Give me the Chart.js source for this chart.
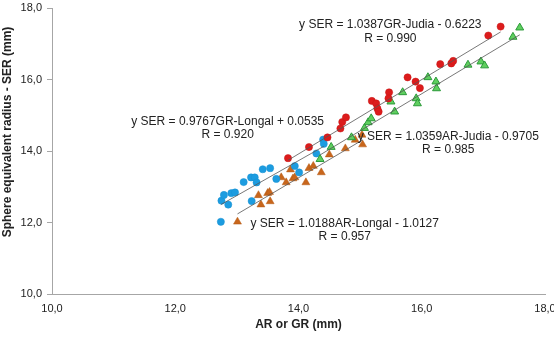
<!DOCTYPE html>
<html>
<head>
<meta charset="utf-8">
<script src="https://cdn.jsdelivr.net/npm/chart.js@4.4.1/dist/chart.umd.min.js"></script>
<style>
html, body { margin: 0; padding: 0; background: #fff; }
</style>
</head>
<body>
<canvas id="scatter-chart" width="554" height="340"></canvas>
<script>
// GR-Longal (blue circles)
const longalGRx = [12.74, 12.75, 12.79, 12.86, 12.91, 12.97, 13.11, 13.23, 13.29, 13.32, 13.42, 13.54, 13.64, 13.24, 13.94, 14.01, 14.29, 14.40, 14.41];
const longalGRy = [12.02, 12.61, 12.77, 12.50, 12.82, 12.84, 13.13, 13.26, 13.26, 13.12, 13.49, 13.52, 13.22, 12.60, 13.58, 13.40, 13.93, 14.32, 14.20];
// GR-Judia (red circles)
const judiaGRx = [13.83, 14.17, 14.47, 14.68, 14.71, 14.77, 15.19, 15.26, 15.28, 15.30, 15.47, 15.46, 15.77, 15.90, 15.97, 16.30, 16.48, 16.51, 17.08, 17.28];
const judiaGRy = [13.80, 14.11, 14.38, 14.63, 14.81, 14.94, 15.40, 15.33, 15.19, 15.10, 15.64, 15.47, 16.06, 15.94, 15.76, 16.43, 16.45, 16.52, 17.23, 17.48];
// AR-Judia (green triangles)
const judiaARx = [14.35, 14.53, 14.86, 15.07, 15.13, 15.18, 15.50, 15.56, 15.69, 15.91, 15.93, 16.10, 16.23, 16.24, 16.75, 16.96, 17.02, 17.48, 17.59];
const judiaARy = [13.77, 14.11, 14.38, 14.64, 14.80, 14.91, 15.38, 15.10, 15.64, 15.47, 15.33, 16.06, 15.94, 15.75, 16.41, 16.50, 16.39, 17.19, 17.45];
// AR-Longal (orange triangles)
const longalARx = [13.01, 13.35, 13.39, 13.50, 13.53, 13.54, 13.72, 13.80, 13.87, 13.91, 13.94, 14.12, 14.17, 14.24, 14.37, 14.50, 14.76, 14.92, 15.04, 15.03];
const longalARy = [12.02, 12.76, 12.50, 12.82, 12.85, 12.59, 13.26, 13.12, 13.48, 13.23, 13.26, 13.12, 13.52, 13.58, 13.40, 13.90, 14.07, 14.31, 14.18, 14.45];

// trendline end points (x range of each series)
const trendLongalGR = [[12.74, 12.50], [14.41, 14.13]];
const trendJudiaGR = [[13.83, 13.74], [17.28, 17.33]];
const trendJudiaAR = [[14.35, 13.89], [17.59, 17.25]];
const trendLongalAR = [[13.01, 12.24], [15.04, 14.31]];

const tickValues = [10, 12, 14, 16, 18];

// equation labels: [text, x, y]
const labels = [
  ["y SER = 1.0387GR-Judia - 0.6223", 15.49, 17.52],
  ["R = 0.990", 15.49, 17.15],
  ["y SER = 0.9767GR-Longal + 0.0535", 12.85, 14.82],
  ["R = 0.920", 12.85, 14.45],
  ["y SER = 1.0359AR-Judia - 0.9705", 16.43, 14.39],
  ["R = 0.985", 16.43, 14.03],
  ["y SER = 1.0188AR-Longal - 1.0127", 14.75, 11.98],
  ["R = 0.957", 14.75, 11.60]
];

function pts(xs, ys) {
  return xs.map((x, i) => ({ x: x, y: ys[i] }));
}
function line(ends) {
  return {
    type: 'line',
    data: ends.map(p => ({ x: p[0], y: p[1] })),
    borderColor: '#555',
    borderWidth: 0.8,
    pointRadius: 0,
    fill: false
  };
}
function fmt(v) {
  return Number(v).toFixed(1).replace('.', ',');
}

const textPlugin = {
  id: 'texts',
  afterDraw(chart) {
    const ctx = chart.ctx;
    const xs = chart.scales.x, ys = chart.scales.y;
    ctx.save();
    ctx.fillStyle = '#222';
    ctx.textAlign = 'center';
    ctx.textBaseline = 'middle';
    ctx.font = '12px "Liberation Sans", Arial, sans-serif';
    labels.forEach(l => {
      ctx.fillText(l[0], xs.getPixelForValue(l[1]), ys.getPixelForValue(l[2]));
    });
    ctx.font = 'bold 12px "Liberation Sans", Arial, sans-serif';
    ctx.fillText('AR or GR (mm)', (chart.chartArea.left + chart.chartArea.right) / 2, 325);
    ctx.translate(8, 132);
    ctx.rotate(-Math.PI / 2);
    ctx.fillText('Sphere equivalent radius - SER (mm)', 0, 0);
    ctx.restore();
  }
};

new Chart(document.getElementById("scatter-chart"), {
  type: 'scatter',
  data: {
    datasets: [
      line(trendLongalGR),
      line(trendJudiaGR),
      line(trendJudiaAR),
      line(trendLongalAR),
      {
        label: "GR-Judia",
        data: pts(judiaGRx, judiaGRy),
        pointStyle: 'circle',
        pointRadius: 3.6,
        backgroundColor: '#dc1c1c',
        borderColor: '#c81414',
        borderWidth: 0.5
      },
      {
        label: "AR-Judia",
        data: pts(judiaARx, judiaARy),
        pointStyle: 'triangle',
        pointRadius: 4.6,
        backgroundColor: '#5fcf5f',
        borderColor: '#2c9a3a',
        borderWidth: 1
      },
      {
        label: "GR-Longal",
        data: pts(longalGRx, longalGRy),
        pointStyle: 'circle',
        pointRadius: 3.6,
        backgroundColor: '#1c9ce0',
        borderColor: '#1890d0',
        borderWidth: 0.5
      },
      {
        label: "AR-Longal",
        data: pts(longalARx, longalARy),
        pointStyle: 'triangle',
        pointRadius: 4.6,
        backgroundColor: '#c8661c',
        borderColor: '#b45a14',
        borderWidth: 0.5
      }
    ]
  },
  options: {
    responsive: false,
    devicePixelRatio: 1,
    animation: false,
    layout: { padding: { top: 8, right: 9, left: 0, bottom: 0 } },
    plugins: {
      legend: { display: false },
      tooltip: { enabled: false }
    },
    scales: {
      x: {
        type: 'linear',
        min: 10,
        max: 18,
        afterBuildTicks: s => { s.ticks = tickValues.map(v => ({ value: v })); },
        afterFit: s => { s.height = 46; s.paddingLeft = 0; s.paddingRight = 0; },
        grid: { display: true, drawOnChartArea: false, drawTicks: false },
        border: { color: '#a6a6a6', width: 1 },
        ticks: {
          padding: 8,
          color: '#222',
          font: { family: '"Liberation Sans", Arial, sans-serif', size: 11 },
          callback: fmt,
          maxRotation: 0
        }
      },
      y: {
        type: 'linear',
        min: 10,
        max: 18,
        afterBuildTicks: s => { s.ticks = tickValues.map(v => ({ value: v })); },
        afterFit: s => { s.width = 52; s.paddingTop = 0; s.paddingBottom = 0; },
        grid: { display: true, drawOnChartArea: false, tickLength: 5, color: '#a6a6a6' },
        border: { color: '#a6a6a6', width: 1 },
        ticks: {
          padding: 5,
          color: '#222',
          font: { family: '"Liberation Sans", Arial, sans-serif', size: 11 },
          callback: fmt
        }
      }
    }
  },
  plugins: [textPlugin]
});
</script>
</body>
</html>
